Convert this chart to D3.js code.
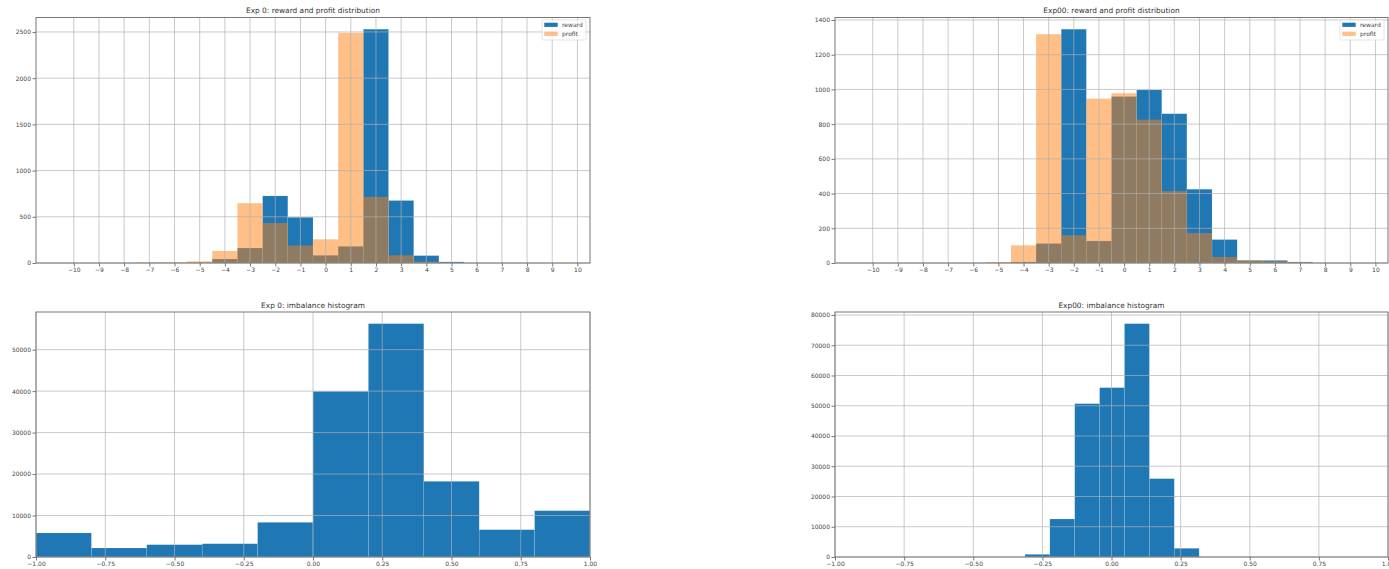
<!DOCTYPE html>
<html><head><meta charset="utf-8">
<script src="https://cdn.jsdelivr.net/npm/d3@7"></script>
<style>body{margin:0;background:#fff} text{font-family:"DejaVu Sans",sans-serif}</style>
</head><body><svg id="c" width="1389" height="569"></svg>
<script>
// ---------- data ----------
const topBinCenters = [-10,-9,-8,-7,-6,-5,-4,-3,-2,-1,0,1,2,3,4,5,6,7,8,9];
const exp0Reward  = [0,0,0,0,0,3,43,162,726,495,83,180,2530,676,80,12,0,0,0,0];
const exp0Profit  = [0,0,0,6,8,18,130,647,433,190,256,2490,715,83,15,0,0,0,0,0];
const exp00Reward = [0,0,0,0,0,0,6,112,1347,127,959,997,860,425,135,15,15,6,0,0];
const exp00Profit = [0,0,0,0,0,6,102,1318,160,947,978,826,414,173,35,15,10,6,0,0];
const topXTicks = [-10,-9,-8,-7,-6,-5,-4,-3,-2,-1,0,1,2,3,4,5,6,7,8,9,10];
const exp0RPYTicks  = [0,500,1000,1500,2000,2500];
const exp00RPYTicks = [0,200,400,600,800,1000,1200,1400];

const exp0ImbEdges  = [-1,-0.8,-0.6,-0.4,-0.2,0,0.2,0.4,0.6,0.8,1];
const exp0ImbCounts = [5800,2170,2970,3200,8360,39950,56270,18250,6590,11170];
const exp00ImbEdges  = [-0.313,-0.223,-0.133,-0.043,0.047,0.137,0.227,0.317];
const exp00ImbCounts = [880,12560,50690,55980,77130,25900,2870];
const imbXTicks = [-1,-0.75,-0.5,-0.25,0,0.25,0.5,0.75,1];
const exp0ImbYTicks  = [0,10000,20000,30000,40000,50000];
const exp00ImbYTicks = [0,10000,20000,30000,40000,50000,60000,70000,80000];

const titles = ["Exp 0: reward and profit distribution","Exp00: reward and profit distribution",
                "Exp 0: imbalance histogram","Exp00: imbalance histogram"];
const legendLabels = ["reward","profit"];

// ---------- drawing ----------
const svg = d3.select("#c");
const BLUE = "#1f77b4", ORANGE = "#ff7f0e";

function panel(o){
  const g = svg.append("g");
  const x = d3.scaleLinear().domain(o.xDomain).range([o.left, o.right]);
  const y = d3.scaleLinear().domain([0, d3.max(o.series.flatMap(s=>s.values))*1.05]).range([o.bottom, o.top]);
  // bars
  o.series.forEach(s=>{
    g.append("g").selectAll("rect").data(s.values.map((v,i)=>({v, x0:s.x0[i], x1:s.x1[i]})).filter(d=>d.v>0))
      .join("rect")
      .attr("x", d=>x(d.x0)).attr("width", d=>x(d.x1)-x(d.x0))
      .attr("y", d=>y(d.v)).attr("height", d=>y(0)-y(d.v))
      .attr("fill", s.color).attr("fill-opacity", s.opacity)
      .attr("stroke", s.stroke||"none").attr("stroke-width", 0.5).attr("stroke-opacity",0.25);
  });
  // grid
  const gg = g.append("g").attr("stroke","#b0b0b0").attr("stroke-width",0.9).attr("stroke-opacity",0.75);
  o.xTicks.forEach(t=>gg.append("line").attr("x1",x(t)).attr("x2",x(t)).attr("y1",o.top).attr("y2",o.bottom));
  o.yTicks.forEach(t=>gg.append("line").attr("y1",y(t)).attr("y2",y(t)).attr("x1",o.left).attr("x2",o.right));
  // axes
  const fmtX = o.xFmt, fmtY = d3.format("d");
  const xa = g.append("g").attr("transform",`translate(0,${o.bottom})`)
    .call(d3.axisBottom(x).tickValues(o.xTicks).tickSize(3.5).tickPadding(1.5).tickFormat(fmtX));
  const ya = g.append("g").attr("transform",`translate(${o.left},0)`)
    .call(d3.axisLeft(y).tickValues(o.yTicks).tickSize(3.5).tickPadding(1.5).tickFormat(fmtY));
  [xa,ya].forEach(a=>{
    a.select(".domain").remove();
    a.selectAll("line").attr("stroke","#555").attr("stroke-width",0.8);
    a.selectAll("text").attr("fill","#444").style("font-size","6px").style("font-family","DejaVu Sans");
  });
  // spines
  g.append("rect").attr("x",o.left).attr("y",o.top).attr("width",o.right-o.left).attr("height",o.bottom-o.top)
    .attr("fill","none").attr("stroke","#777").attr("stroke-width",1);
  // title
  g.append("text").attr("x",(o.left+o.right)/2).attr("y",o.top-4.5).attr("text-anchor","middle")
    .attr("fill","#333").style("font-size","7.4px").text(o.title);
  // legend
  if(o.legend){
    const lx = o.right-48, ly = o.top+2.5;
    const lg = g.append("g");
    lg.append("rect").attr("x",lx).attr("y",ly).attr("width",44).attr("height",20).attr("rx",1.5)
      .attr("fill","#fff").attr("fill-opacity",0.8).attr("stroke","#d8d8d8").attr("stroke-width",0.7);
    o.series.forEach((s,i)=>{
      lg.append("rect").attr("x",lx+2.3).attr("y",ly+2.7+i*9).attr("width",13.4).attr("height",4.2)
        .attr("fill",s.color).attr("fill-opacity",s.opacity);
      lg.append("text").attr("x",lx+20).attr("y",ly+7.2+i*9).attr("fill","#444").style("font-size","6px").text(legendLabels[i]);
    });
  }
}

const lo = topBinCenters.map(c=>c-0.5), hi = topBinCenters.map(c=>c+0.5);
const fmtInt = d3.format("d"), fmt2 = d3.format(".2f");
const L = {l:36, r:590}, R = {l:835, r:1388}, T = {t:17.5, b:263}, B = {t:312, b:557};

panel({left:L.l,right:L.r,top:T.t,bottom:T.b,xDomain:[-11.5,10.5],xTicks:topXTicks,yTicks:exp0RPYTicks,xFmt:fmtInt,
  title:titles[0],legend:true,
  series:[{values:exp0Reward,x0:lo,x1:hi,color:BLUE,opacity:1,stroke:"#ffffff"},
          {values:exp0Profit,x0:lo,x1:hi,color:ORANGE,opacity:0.5}]});
panel({left:R.l,right:R.r,top:T.t,bottom:T.b,xDomain:[-11.5,10.5],xTicks:topXTicks,yTicks:exp00RPYTicks,xFmt:fmtInt,
  title:titles[1],legend:true,
  series:[{values:exp00Reward,x0:lo,x1:hi,color:BLUE,opacity:1,stroke:"#ffffff"},
          {values:exp00Profit,x0:lo,x1:hi,color:ORANGE,opacity:0.5}]});
panel({left:L.l,right:L.r,top:B.t,bottom:B.b,xDomain:[-1,1],xTicks:imbXTicks,yTicks:exp0ImbYTicks,xFmt:fmt2,
  title:titles[2],legend:false,
  series:[{values:exp0ImbCounts,x0:exp0ImbEdges.slice(0,-1),x1:exp0ImbEdges.slice(1),color:BLUE,opacity:1,stroke:"#ffffff"}]});
panel({left:R.l,right:R.r,top:B.t,bottom:B.b,xDomain:[-1,1],xTicks:imbXTicks,yTicks:exp00ImbYTicks,xFmt:fmt2,
  title:titles[3],legend:false,
  series:[{values:exp00ImbCounts,x0:exp00ImbEdges.slice(0,-1),x1:exp00ImbEdges.slice(1),color:BLUE,opacity:1,stroke:"#ffffff"}]});
</script></body></html>
